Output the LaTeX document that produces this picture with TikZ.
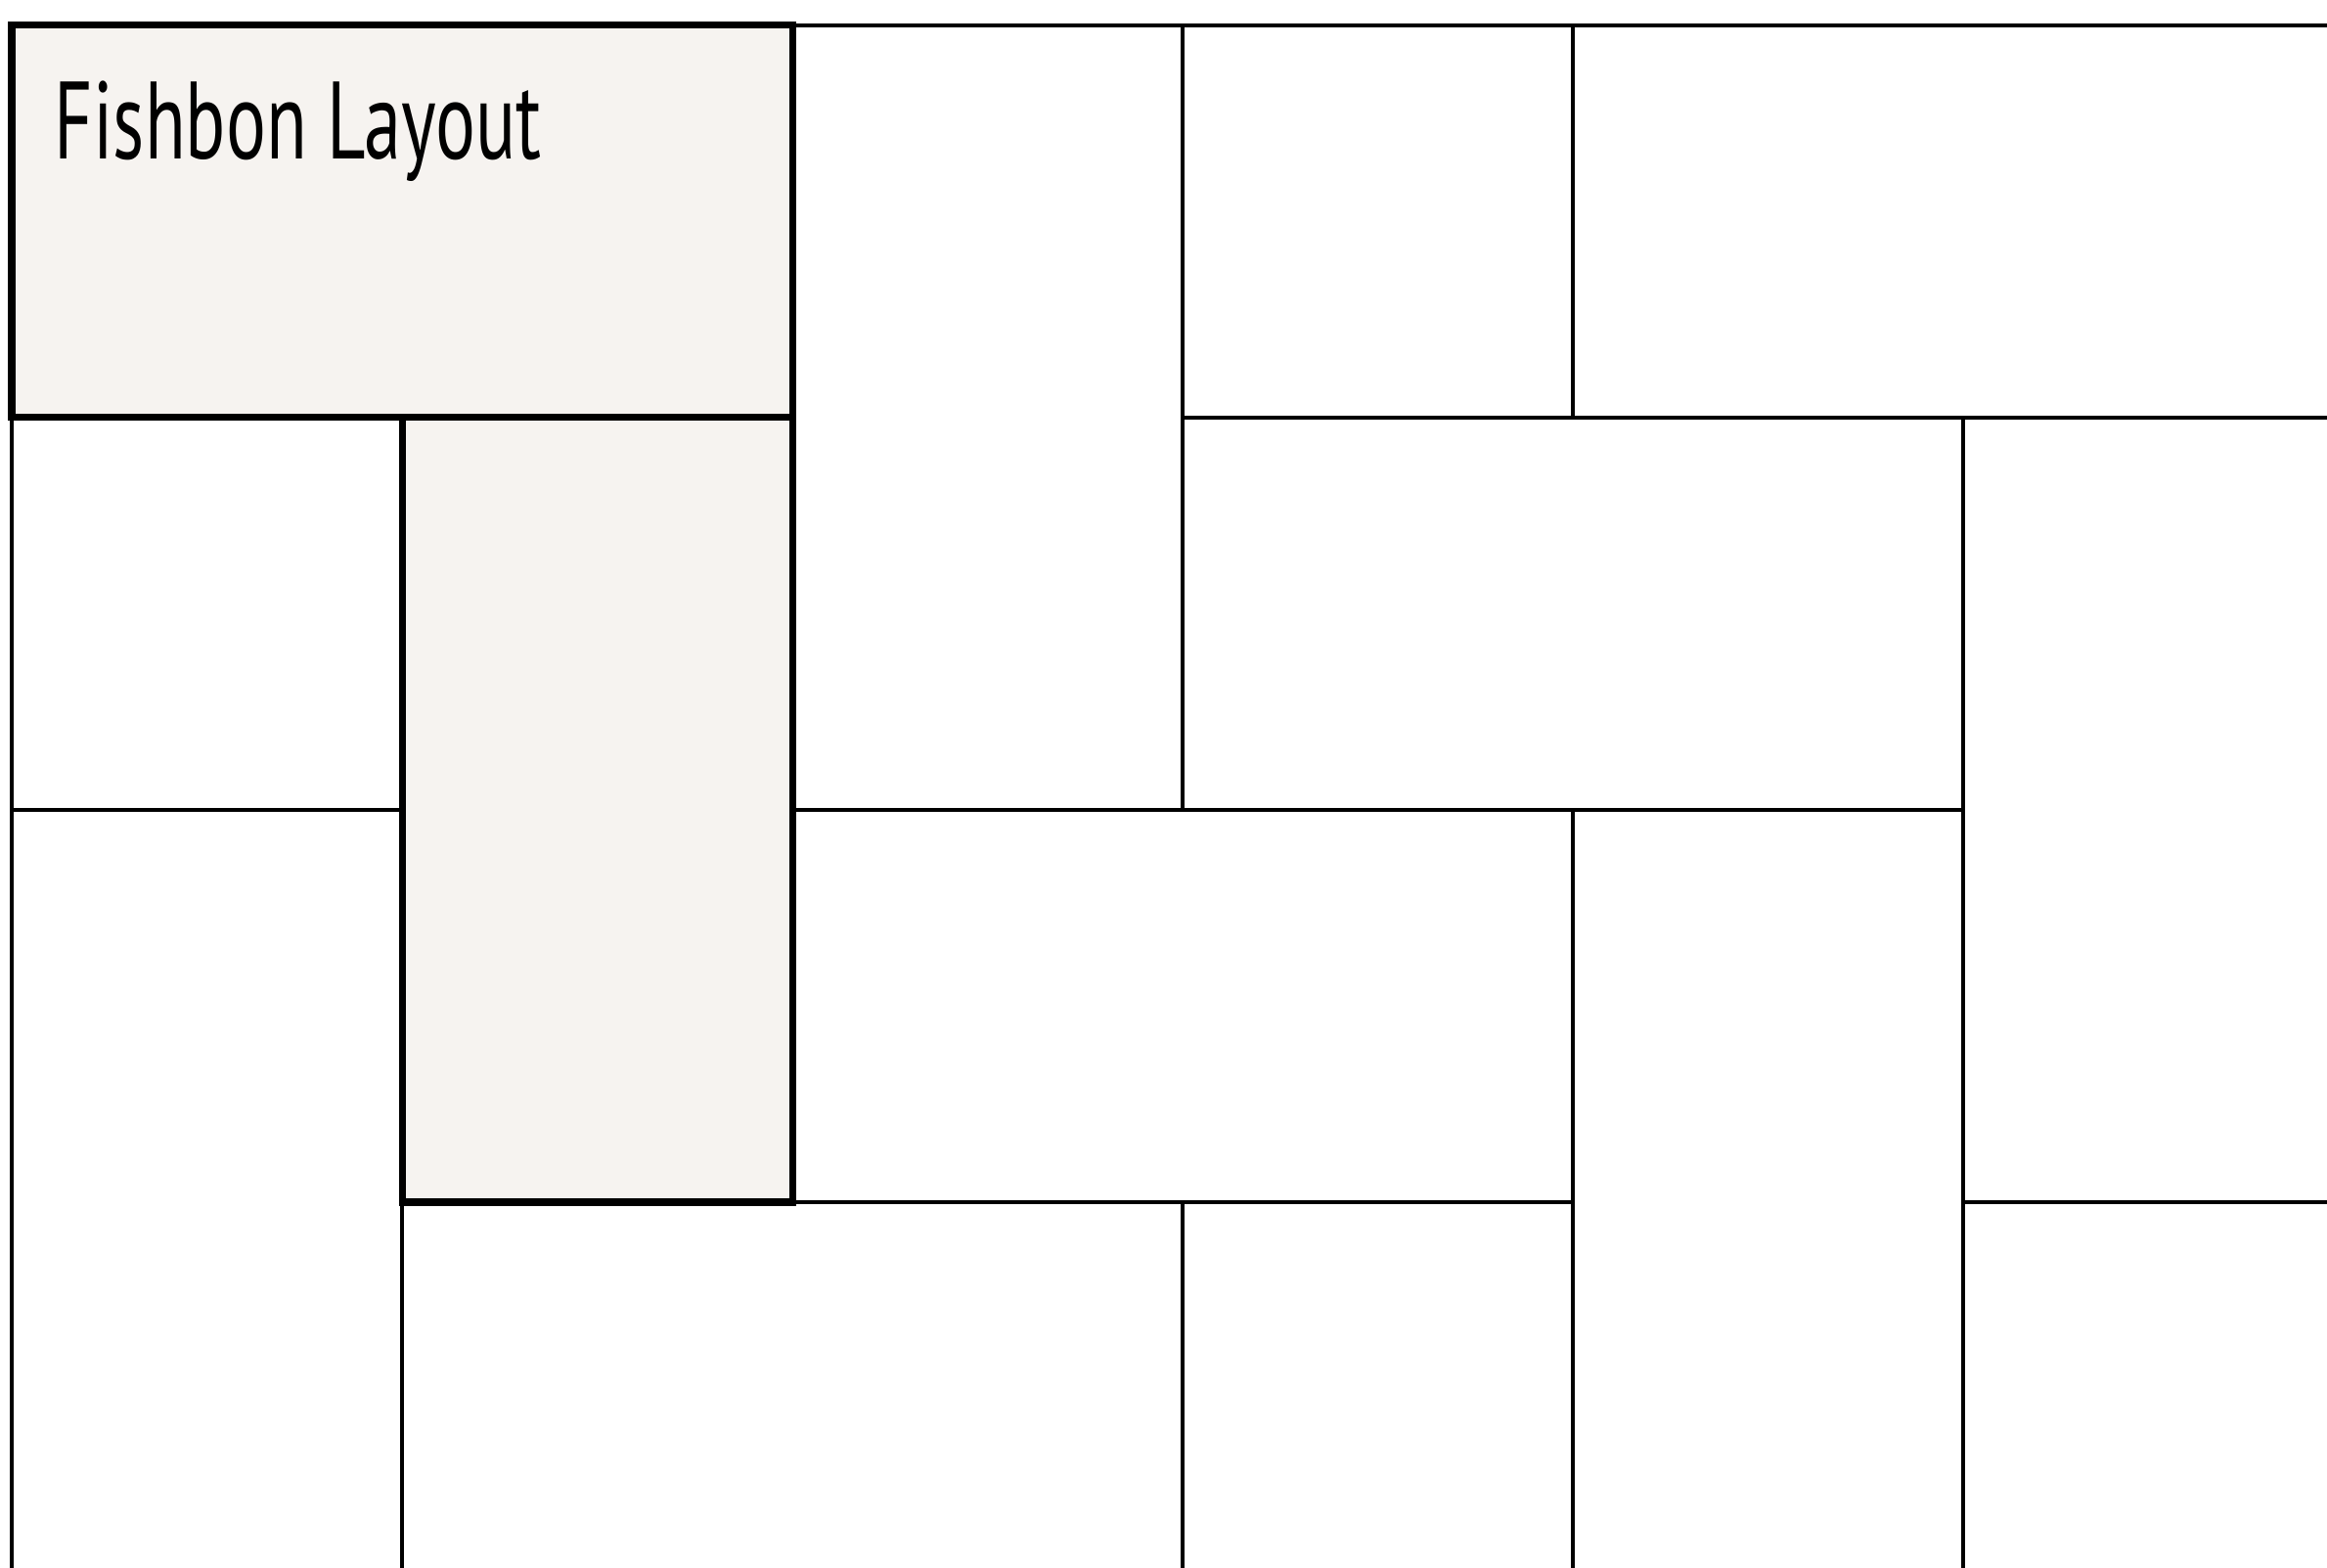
\documentclass[tikz,border=0pt]{standalone}
\usepackage{fontspec}
\usepackage{xcolor}
\newfontfamily\layoutfont[FakeStretch=0.68]{PT Sans}
\definecolor{TileFill}{RGB}{246,243,240}
\tikzset{
  tileline/.style={draw=black, line width=0.9pt},
  marked/.style={draw=black, line width=2pt, fill=TileFill}
}

\begin{document}
\begin{tikzpicture}[x=3.99cm, y=-4.01cm, line join=miter]
  \useasboundingbox (-0.0301,-0.0648) rectangle (5.9323,3.9327);
  % plain bricks, cut off at the page edge
  \begin{scope}
    \clip (0,0) rectangle (5.9323,3.9327);
    \foreach \xa/\ya/\xb/\yb in {2/0/3/2, 3/-1/4/1, 4/0/6/1, 3/1/5/2, 5/1/6/3,
                                 -1/1/1/2, 0/2/1/4, 2/2/4/3, 4/2/5/4,
                                 1/3/3/4, 3/3/4/5, 5/3/7/4}
      \draw[tileline] (\xa,\ya) rectangle (\xb,\yb);
  \end{scope}
  \draw[tileline] (0,0) -- (5.9323,0);
  \draw[tileline] (0,0) -- (0,3.9327);
  % the two highlighted bricks
  \draw[marked] (1,1) rectangle (2,3);
  \draw[marked] (0,0) rectangle (2,1);
  \node[anchor=base west, inner sep=0pt, font=\layoutfont\fontsize{32}{36}\selectfont] (title) at (0.108,0.340) {Fishbon Layout};
\end{tikzpicture}
\end{document}
